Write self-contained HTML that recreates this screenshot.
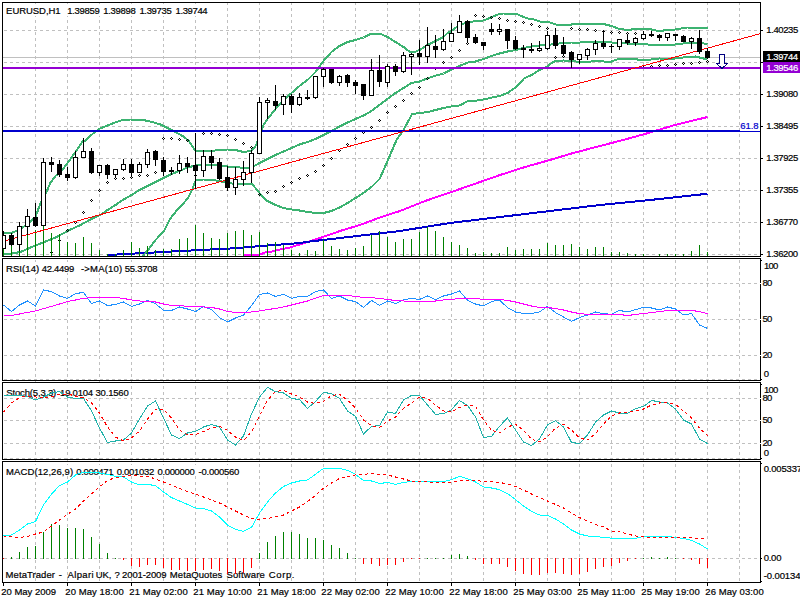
<!DOCTYPE html>
<html><head><meta charset="utf-8"><title>EURUSD,H1</title>
<style>
html,body{margin:0;padding:0;background:#fff;overflow:hidden}
svg{display:block}
text{font-family:"Liberation Sans",sans-serif;font-size:9.5px;white-space:pre;stroke-width:0.2px}
.tx{opacity:0.999}
</style></head><body>
<svg width="800" height="600" viewBox="0 0 800 600">
<rect width="800" height="600" fill="#fff"/>
<g shape-rendering="crispEdges">
<line x1="35.5" y1="3" x2="35.5" y2="256" stroke="#c0c0c0" stroke-dasharray="3 3" stroke-dashoffset="1"/>
<line x1="67.5" y1="3" x2="67.5" y2="256" stroke="#c0c0c0" stroke-dasharray="3 3" stroke-dashoffset="1"/>
<line x1="99.5" y1="3" x2="99.5" y2="256" stroke="#c0c0c0" stroke-dasharray="3 3" stroke-dashoffset="1"/>
<line x1="131.5" y1="3" x2="131.5" y2="256" stroke="#c0c0c0" stroke-dasharray="3 3" stroke-dashoffset="1"/>
<line x1="163.5" y1="3" x2="163.5" y2="256" stroke="#c0c0c0" stroke-dasharray="3 3" stroke-dashoffset="1"/>
<line x1="195.5" y1="3" x2="195.5" y2="256" stroke="#c0c0c0" stroke-dasharray="3 3" stroke-dashoffset="1"/>
<line x1="227.5" y1="3" x2="227.5" y2="256" stroke="#c0c0c0" stroke-dasharray="3 3" stroke-dashoffset="1"/>
<line x1="259.5" y1="3" x2="259.5" y2="256" stroke="#c0c0c0" stroke-dasharray="3 3" stroke-dashoffset="1"/>
<line x1="291.5" y1="3" x2="291.5" y2="256" stroke="#c0c0c0" stroke-dasharray="3 3" stroke-dashoffset="1"/>
<line x1="323.5" y1="3" x2="323.5" y2="256" stroke="#c0c0c0" stroke-dasharray="3 3" stroke-dashoffset="1"/>
<line x1="355.5" y1="3" x2="355.5" y2="256" stroke="#c0c0c0" stroke-dasharray="3 3" stroke-dashoffset="1"/>
<line x1="387.5" y1="3" x2="387.5" y2="256" stroke="#c0c0c0" stroke-dasharray="3 3" stroke-dashoffset="1"/>
<line x1="419.5" y1="3" x2="419.5" y2="256" stroke="#c0c0c0" stroke-dasharray="3 3" stroke-dashoffset="1"/>
<line x1="451.5" y1="3" x2="451.5" y2="256" stroke="#c0c0c0" stroke-dasharray="3 3" stroke-dashoffset="1"/>
<line x1="483.5" y1="3" x2="483.5" y2="256" stroke="#c0c0c0" stroke-dasharray="3 3" stroke-dashoffset="1"/>
<line x1="515.5" y1="3" x2="515.5" y2="256" stroke="#c0c0c0" stroke-dasharray="3 3" stroke-dashoffset="1"/>
<line x1="547.5" y1="3" x2="547.5" y2="256" stroke="#c0c0c0" stroke-dasharray="3 3" stroke-dashoffset="1"/>
<line x1="579.5" y1="3" x2="579.5" y2="256" stroke="#c0c0c0" stroke-dasharray="3 3" stroke-dashoffset="1"/>
<line x1="611.5" y1="3" x2="611.5" y2="256" stroke="#c0c0c0" stroke-dasharray="3 3" stroke-dashoffset="1"/>
<line x1="643.5" y1="3" x2="643.5" y2="256" stroke="#c0c0c0" stroke-dasharray="3 3" stroke-dashoffset="1"/>
<line x1="675.5" y1="3" x2="675.5" y2="256" stroke="#c0c0c0" stroke-dasharray="3 3" stroke-dashoffset="1"/>
<line x1="707.5" y1="3" x2="707.5" y2="256" stroke="#c0c0c0" stroke-dasharray="3 3" stroke-dashoffset="1"/>
<line x1="739.5" y1="3" x2="739.5" y2="256" stroke="#c0c0c0" stroke-dasharray="3 3" stroke-dashoffset="1"/>
<line x1="35.5" y1="259" x2="35.5" y2="380" stroke="#c0c0c0" stroke-dasharray="3 3" stroke-dashoffset="5"/>
<line x1="67.5" y1="259" x2="67.5" y2="380" stroke="#c0c0c0" stroke-dasharray="3 3" stroke-dashoffset="5"/>
<line x1="99.5" y1="259" x2="99.5" y2="380" stroke="#c0c0c0" stroke-dasharray="3 3" stroke-dashoffset="5"/>
<line x1="131.5" y1="259" x2="131.5" y2="380" stroke="#c0c0c0" stroke-dasharray="3 3" stroke-dashoffset="5"/>
<line x1="163.5" y1="259" x2="163.5" y2="380" stroke="#c0c0c0" stroke-dasharray="3 3" stroke-dashoffset="5"/>
<line x1="195.5" y1="259" x2="195.5" y2="380" stroke="#c0c0c0" stroke-dasharray="3 3" stroke-dashoffset="5"/>
<line x1="227.5" y1="259" x2="227.5" y2="380" stroke="#c0c0c0" stroke-dasharray="3 3" stroke-dashoffset="5"/>
<line x1="259.5" y1="259" x2="259.5" y2="380" stroke="#c0c0c0" stroke-dasharray="3 3" stroke-dashoffset="5"/>
<line x1="291.5" y1="259" x2="291.5" y2="380" stroke="#c0c0c0" stroke-dasharray="3 3" stroke-dashoffset="5"/>
<line x1="323.5" y1="259" x2="323.5" y2="380" stroke="#c0c0c0" stroke-dasharray="3 3" stroke-dashoffset="5"/>
<line x1="355.5" y1="259" x2="355.5" y2="380" stroke="#c0c0c0" stroke-dasharray="3 3" stroke-dashoffset="5"/>
<line x1="387.5" y1="259" x2="387.5" y2="380" stroke="#c0c0c0" stroke-dasharray="3 3" stroke-dashoffset="5"/>
<line x1="419.5" y1="259" x2="419.5" y2="380" stroke="#c0c0c0" stroke-dasharray="3 3" stroke-dashoffset="5"/>
<line x1="451.5" y1="259" x2="451.5" y2="380" stroke="#c0c0c0" stroke-dasharray="3 3" stroke-dashoffset="5"/>
<line x1="483.5" y1="259" x2="483.5" y2="380" stroke="#c0c0c0" stroke-dasharray="3 3" stroke-dashoffset="5"/>
<line x1="515.5" y1="259" x2="515.5" y2="380" stroke="#c0c0c0" stroke-dasharray="3 3" stroke-dashoffset="5"/>
<line x1="547.5" y1="259" x2="547.5" y2="380" stroke="#c0c0c0" stroke-dasharray="3 3" stroke-dashoffset="5"/>
<line x1="579.5" y1="259" x2="579.5" y2="380" stroke="#c0c0c0" stroke-dasharray="3 3" stroke-dashoffset="5"/>
<line x1="611.5" y1="259" x2="611.5" y2="380" stroke="#c0c0c0" stroke-dasharray="3 3" stroke-dashoffset="5"/>
<line x1="643.5" y1="259" x2="643.5" y2="380" stroke="#c0c0c0" stroke-dasharray="3 3" stroke-dashoffset="5"/>
<line x1="675.5" y1="259" x2="675.5" y2="380" stroke="#c0c0c0" stroke-dasharray="3 3" stroke-dashoffset="5"/>
<line x1="707.5" y1="259" x2="707.5" y2="380" stroke="#c0c0c0" stroke-dasharray="3 3" stroke-dashoffset="5"/>
<line x1="739.5" y1="259" x2="739.5" y2="380" stroke="#c0c0c0" stroke-dasharray="3 3" stroke-dashoffset="5"/>
<line x1="35.5" y1="383" x2="35.5" y2="459" stroke="#c0c0c0" stroke-dasharray="3 3" stroke-dashoffset="3"/>
<line x1="67.5" y1="383" x2="67.5" y2="459" stroke="#c0c0c0" stroke-dasharray="3 3" stroke-dashoffset="3"/>
<line x1="99.5" y1="383" x2="99.5" y2="459" stroke="#c0c0c0" stroke-dasharray="3 3" stroke-dashoffset="3"/>
<line x1="131.5" y1="383" x2="131.5" y2="459" stroke="#c0c0c0" stroke-dasharray="3 3" stroke-dashoffset="3"/>
<line x1="163.5" y1="383" x2="163.5" y2="459" stroke="#c0c0c0" stroke-dasharray="3 3" stroke-dashoffset="3"/>
<line x1="195.5" y1="383" x2="195.5" y2="459" stroke="#c0c0c0" stroke-dasharray="3 3" stroke-dashoffset="3"/>
<line x1="227.5" y1="383" x2="227.5" y2="459" stroke="#c0c0c0" stroke-dasharray="3 3" stroke-dashoffset="3"/>
<line x1="259.5" y1="383" x2="259.5" y2="459" stroke="#c0c0c0" stroke-dasharray="3 3" stroke-dashoffset="3"/>
<line x1="291.5" y1="383" x2="291.5" y2="459" stroke="#c0c0c0" stroke-dasharray="3 3" stroke-dashoffset="3"/>
<line x1="323.5" y1="383" x2="323.5" y2="459" stroke="#c0c0c0" stroke-dasharray="3 3" stroke-dashoffset="3"/>
<line x1="355.5" y1="383" x2="355.5" y2="459" stroke="#c0c0c0" stroke-dasharray="3 3" stroke-dashoffset="3"/>
<line x1="387.5" y1="383" x2="387.5" y2="459" stroke="#c0c0c0" stroke-dasharray="3 3" stroke-dashoffset="3"/>
<line x1="419.5" y1="383" x2="419.5" y2="459" stroke="#c0c0c0" stroke-dasharray="3 3" stroke-dashoffset="3"/>
<line x1="451.5" y1="383" x2="451.5" y2="459" stroke="#c0c0c0" stroke-dasharray="3 3" stroke-dashoffset="3"/>
<line x1="483.5" y1="383" x2="483.5" y2="459" stroke="#c0c0c0" stroke-dasharray="3 3" stroke-dashoffset="3"/>
<line x1="515.5" y1="383" x2="515.5" y2="459" stroke="#c0c0c0" stroke-dasharray="3 3" stroke-dashoffset="3"/>
<line x1="547.5" y1="383" x2="547.5" y2="459" stroke="#c0c0c0" stroke-dasharray="3 3" stroke-dashoffset="3"/>
<line x1="579.5" y1="383" x2="579.5" y2="459" stroke="#c0c0c0" stroke-dasharray="3 3" stroke-dashoffset="3"/>
<line x1="611.5" y1="383" x2="611.5" y2="459" stroke="#c0c0c0" stroke-dasharray="3 3" stroke-dashoffset="3"/>
<line x1="643.5" y1="383" x2="643.5" y2="459" stroke="#c0c0c0" stroke-dasharray="3 3" stroke-dashoffset="3"/>
<line x1="675.5" y1="383" x2="675.5" y2="459" stroke="#c0c0c0" stroke-dasharray="3 3" stroke-dashoffset="3"/>
<line x1="707.5" y1="383" x2="707.5" y2="459" stroke="#c0c0c0" stroke-dasharray="3 3" stroke-dashoffset="3"/>
<line x1="739.5" y1="383" x2="739.5" y2="459" stroke="#c0c0c0" stroke-dasharray="3 3" stroke-dashoffset="3"/>
<line x1="35.5" y1="462" x2="35.5" y2="582" stroke="#c0c0c0" stroke-dasharray="3 3" stroke-dashoffset="4"/>
<line x1="67.5" y1="462" x2="67.5" y2="582" stroke="#c0c0c0" stroke-dasharray="3 3" stroke-dashoffset="4"/>
<line x1="99.5" y1="462" x2="99.5" y2="582" stroke="#c0c0c0" stroke-dasharray="3 3" stroke-dashoffset="4"/>
<line x1="131.5" y1="462" x2="131.5" y2="582" stroke="#c0c0c0" stroke-dasharray="3 3" stroke-dashoffset="4"/>
<line x1="163.5" y1="462" x2="163.5" y2="582" stroke="#c0c0c0" stroke-dasharray="3 3" stroke-dashoffset="4"/>
<line x1="195.5" y1="462" x2="195.5" y2="582" stroke="#c0c0c0" stroke-dasharray="3 3" stroke-dashoffset="4"/>
<line x1="227.5" y1="462" x2="227.5" y2="582" stroke="#c0c0c0" stroke-dasharray="3 3" stroke-dashoffset="4"/>
<line x1="259.5" y1="462" x2="259.5" y2="582" stroke="#c0c0c0" stroke-dasharray="3 3" stroke-dashoffset="4"/>
<line x1="291.5" y1="462" x2="291.5" y2="582" stroke="#c0c0c0" stroke-dasharray="3 3" stroke-dashoffset="4"/>
<line x1="323.5" y1="462" x2="323.5" y2="582" stroke="#c0c0c0" stroke-dasharray="3 3" stroke-dashoffset="4"/>
<line x1="355.5" y1="462" x2="355.5" y2="582" stroke="#c0c0c0" stroke-dasharray="3 3" stroke-dashoffset="4"/>
<line x1="387.5" y1="462" x2="387.5" y2="582" stroke="#c0c0c0" stroke-dasharray="3 3" stroke-dashoffset="4"/>
<line x1="419.5" y1="462" x2="419.5" y2="582" stroke="#c0c0c0" stroke-dasharray="3 3" stroke-dashoffset="4"/>
<line x1="451.5" y1="462" x2="451.5" y2="582" stroke="#c0c0c0" stroke-dasharray="3 3" stroke-dashoffset="4"/>
<line x1="483.5" y1="462" x2="483.5" y2="582" stroke="#c0c0c0" stroke-dasharray="3 3" stroke-dashoffset="4"/>
<line x1="515.5" y1="462" x2="515.5" y2="582" stroke="#c0c0c0" stroke-dasharray="3 3" stroke-dashoffset="4"/>
<line x1="547.5" y1="462" x2="547.5" y2="582" stroke="#c0c0c0" stroke-dasharray="3 3" stroke-dashoffset="4"/>
<line x1="579.5" y1="462" x2="579.5" y2="582" stroke="#c0c0c0" stroke-dasharray="3 3" stroke-dashoffset="4"/>
<line x1="611.5" y1="462" x2="611.5" y2="582" stroke="#c0c0c0" stroke-dasharray="3 3" stroke-dashoffset="4"/>
<line x1="643.5" y1="462" x2="643.5" y2="582" stroke="#c0c0c0" stroke-dasharray="3 3" stroke-dashoffset="4"/>
<line x1="675.5" y1="462" x2="675.5" y2="582" stroke="#c0c0c0" stroke-dasharray="3 3" stroke-dashoffset="4"/>
<line x1="707.5" y1="462" x2="707.5" y2="582" stroke="#c0c0c0" stroke-dasharray="3 3" stroke-dashoffset="4"/>
<line x1="739.5" y1="462" x2="739.5" y2="582" stroke="#c0c0c0" stroke-dasharray="3 3" stroke-dashoffset="4"/>
<rect x="35" y="381" width="1" height="1" fill="#c0c0c0"/>
<rect x="35" y="460" width="1" height="1" fill="#c0c0c0"/>
<rect x="67" y="381" width="1" height="1" fill="#c0c0c0"/>
<rect x="67" y="460" width="1" height="1" fill="#c0c0c0"/>
<rect x="99" y="381" width="1" height="1" fill="#c0c0c0"/>
<rect x="99" y="460" width="1" height="1" fill="#c0c0c0"/>
<rect x="131" y="381" width="1" height="1" fill="#c0c0c0"/>
<rect x="131" y="460" width="1" height="1" fill="#c0c0c0"/>
<rect x="163" y="381" width="1" height="1" fill="#c0c0c0"/>
<rect x="163" y="460" width="1" height="1" fill="#c0c0c0"/>
<rect x="195" y="381" width="1" height="1" fill="#c0c0c0"/>
<rect x="195" y="460" width="1" height="1" fill="#c0c0c0"/>
<rect x="227" y="381" width="1" height="1" fill="#c0c0c0"/>
<rect x="227" y="460" width="1" height="1" fill="#c0c0c0"/>
<rect x="259" y="381" width="1" height="1" fill="#c0c0c0"/>
<rect x="259" y="460" width="1" height="1" fill="#c0c0c0"/>
<rect x="291" y="381" width="1" height="1" fill="#c0c0c0"/>
<rect x="291" y="460" width="1" height="1" fill="#c0c0c0"/>
<rect x="323" y="381" width="1" height="1" fill="#c0c0c0"/>
<rect x="323" y="460" width="1" height="1" fill="#c0c0c0"/>
<rect x="355" y="381" width="1" height="1" fill="#c0c0c0"/>
<rect x="355" y="460" width="1" height="1" fill="#c0c0c0"/>
<rect x="387" y="381" width="1" height="1" fill="#c0c0c0"/>
<rect x="387" y="460" width="1" height="1" fill="#c0c0c0"/>
<rect x="419" y="381" width="1" height="1" fill="#c0c0c0"/>
<rect x="419" y="460" width="1" height="1" fill="#c0c0c0"/>
<rect x="451" y="381" width="1" height="1" fill="#c0c0c0"/>
<rect x="451" y="460" width="1" height="1" fill="#c0c0c0"/>
<rect x="483" y="381" width="1" height="1" fill="#c0c0c0"/>
<rect x="483" y="460" width="1" height="1" fill="#c0c0c0"/>
<rect x="515" y="381" width="1" height="1" fill="#c0c0c0"/>
<rect x="515" y="460" width="1" height="1" fill="#c0c0c0"/>
<rect x="547" y="381" width="1" height="1" fill="#c0c0c0"/>
<rect x="547" y="460" width="1" height="1" fill="#c0c0c0"/>
<rect x="579" y="381" width="1" height="1" fill="#c0c0c0"/>
<rect x="579" y="460" width="1" height="1" fill="#c0c0c0"/>
<rect x="611" y="381" width="1" height="1" fill="#c0c0c0"/>
<rect x="611" y="460" width="1" height="1" fill="#c0c0c0"/>
<rect x="643" y="381" width="1" height="1" fill="#c0c0c0"/>
<rect x="643" y="460" width="1" height="1" fill="#c0c0c0"/>
<rect x="675" y="381" width="1" height="1" fill="#c0c0c0"/>
<rect x="675" y="460" width="1" height="1" fill="#c0c0c0"/>
<rect x="707" y="381" width="1" height="1" fill="#c0c0c0"/>
<rect x="707" y="460" width="1" height="1" fill="#c0c0c0"/>
<rect x="739" y="381" width="1" height="1" fill="#c0c0c0"/>
<rect x="739" y="460" width="1" height="1" fill="#c0c0c0"/>
<line x1="3" y1="30.5" x2="760" y2="30.5" stroke="#c0c0c0" stroke-dasharray="3 3" stroke-dashoffset="5"/>
<line x1="3" y1="62.5" x2="760" y2="62.5" stroke="#c0c0c0" stroke-dasharray="3 3" stroke-dashoffset="5"/>
<line x1="3" y1="94.5" x2="760" y2="94.5" stroke="#c0c0c0" stroke-dasharray="3 3" stroke-dashoffset="5"/>
<line x1="3" y1="126.5" x2="760" y2="126.5" stroke="#c0c0c0" stroke-dasharray="3 3" stroke-dashoffset="5"/>
<line x1="3" y1="158.5" x2="760" y2="158.5" stroke="#c0c0c0" stroke-dasharray="3 3" stroke-dashoffset="5"/>
<line x1="3" y1="190.5" x2="760" y2="190.5" stroke="#c0c0c0" stroke-dasharray="3 3" stroke-dashoffset="5"/>
<line x1="3" y1="222.5" x2="760" y2="222.5" stroke="#c0c0c0" stroke-dasharray="3 3" stroke-dashoffset="5"/>
<line x1="3" y1="254.5" x2="760" y2="254.5" stroke="#c0c0c0" stroke-dasharray="3 3" stroke-dashoffset="5"/>
<line x1="3" y1="283.5" x2="760" y2="283.5" stroke="#c0c0c0" stroke-dasharray="3 3" stroke-dashoffset="5"/>
<line x1="3" y1="319.5" x2="760" y2="319.5" stroke="#c0c0c0" stroke-dasharray="3 3" stroke-dashoffset="5"/>
<line x1="3" y1="355.5" x2="760" y2="355.5" stroke="#c0c0c0" stroke-dasharray="3 3" stroke-dashoffset="5"/>
<line x1="3" y1="379.5" x2="760" y2="379.5" stroke="#c0c0c0" stroke-dasharray="3 3" stroke-dashoffset="5"/>
<line x1="3" y1="398.5" x2="760" y2="398.5" stroke="#c0c0c0" stroke-dasharray="3 3" stroke-dashoffset="5"/>
<line x1="3" y1="420.5" x2="760" y2="420.5" stroke="#c0c0c0" stroke-dasharray="3 3" stroke-dashoffset="5"/>
<line x1="3" y1="443.5" x2="760" y2="443.5" stroke="#c0c0c0" stroke-dasharray="3 3" stroke-dashoffset="5"/>
<line x1="3" y1="458.5" x2="760" y2="458.5" stroke="#c0c0c0" stroke-dasharray="3 3" stroke-dashoffset="5"/>
<line x1="3" y1="558.5" x2="760" y2="558.5" stroke="#c0c0c0" stroke-dasharray="3 3" stroke-dashoffset="5"/>
</g>
<rect x="5" y="4" width="204" height="12" fill="#fff"/>
<rect x="5" y="262" width="154" height="11" fill="#fff"/>
<rect x="5" y="386" width="125" height="11" fill="#fff"/>
<rect x="5" y="465" width="236" height="11" fill="#fff"/>
<g class="tx">
<text x="6.12" y="14" fill="#000" stroke="#000" letter-spacing="-0.057">EURUSD,H1</text>
<text x="67.18" y="14" fill="#000" stroke="#000" letter-spacing="-0.294">1.39859</text>
<text x="103.28" y="14" fill="#000" stroke="#000" letter-spacing="-0.317">1.39898</text>
<text x="139.38" y="14" fill="#000" stroke="#000" letter-spacing="-0.336">1.39735</text>
<text x="175.48" y="14" fill="#000" stroke="#000" letter-spacing="-0.373">1.39744</text>
<text x="6.02" y="272" fill="#000" stroke="#000" letter-spacing="0.073">RSI(14)</text>
<text x="41.68" y="272" fill="#000" stroke="#000" letter-spacing="-0.295">42.4499</text>
<text x="80.98" y="272" fill="#000" stroke="#000" letter-spacing="0.194">-&gt;MA(10)</text>
<text x="124.72" y="272" fill="#000" stroke="#000" letter-spacing="-0.258">55.3708</text>
<text x="6.37" y="396" fill="#000" stroke="#000" letter-spacing="-0.166">Stoch(5,3,3)</text>
<text x="60.08" y="396" fill="#000" stroke="#000" letter-spacing="-0.223">19.0104</text>
<text x="95.54" y="396" fill="#000" stroke="#000" letter-spacing="-0.201">30.1560</text>
<text x="6.12" y="475" fill="#000" stroke="#000" letter-spacing="0.081">MACD(12,26,9)</text>
<text x="76.23" y="475" fill="#000" stroke="#000" letter-spacing="-0.327">0.000471</text>
<text x="116.83" y="475" fill="#000" stroke="#000" letter-spacing="-0.318">0.001032</text>
<text x="157.43" y="475" fill="#000" stroke="#000" letter-spacing="-0.326">0.000000</text>
<text x="198.58" y="475" fill="#000" stroke="#000" letter-spacing="-0.249">-0.000560</text>
<text x="5.62" y="578" fill="#000" stroke="#000" letter-spacing="0.060">MetaTrader</text>
<text x="58.83" y="578" fill="#000" stroke="#000">-</text>
<text x="67.48" y="578" fill="#000" stroke="#000" letter-spacing="0.374">Alpari</text>
<text x="95.67" y="578" fill="#000" stroke="#000" letter-spacing="-0.025">UK,</text>
<text x="114.61" y="578" fill="#000" stroke="#000">?</text>
<text x="122.12" y="578" fill="#000" stroke="#000" letter-spacing="-0.125">2001-2009</text>
<text x="169.82" y="578" fill="#000" stroke="#000" letter-spacing="0.086">MetaQuotes</text>
<text x="226.47" y="578" fill="#000" stroke="#000" letter-spacing="0.123">Software</text>
<text x="268.77" y="578" fill="#000" stroke="#000" letter-spacing="0.617">Corp.</text>
</g>
<clipPath id="cm"><rect x="3" y="3" width="757" height="253"/></clipPath>
<g clip-path="url(#cm)" shape-rendering="crispEdges">
<rect x="3" y="57" width="757" height="1" fill="#c0c0c0"/>
<polyline points="244.00,255.00 260.00,254.50 265.00,252.50 270.00,252.00 280.00,249.50 290.00,247.50 296.00,245.50 303.00,243.50 320.00,238.00 340.00,231.00 360.00,225.00 380.00,217.50 400.00,211.00 425.00,201.00 450.00,192.50 475.00,183.75 500.00,175.00 525.00,167.00 550.00,160.00 575.00,152.50 600.00,146.00 625.00,139.50 650.00,132.50 675.00,125.00 707.50,117.00" fill="none" stroke="#ff00ff" stroke-width="2" stroke-linejoin="round" stroke-linecap="butt"/>
<polyline points="107.50,255.00 200.00,250.00 230.00,248.50 300.00,243.00 310.00,241.50 400.00,231.00 450.00,223.00 500.00,217.00 550.00,211.00 600.00,205.00 650.00,200.00 707.50,193.75" fill="none" stroke="#0000cd" stroke-width="2" stroke-linejoin="round" stroke-linecap="butt"/>
<polyline points="3.50,233.00 11.50,233.00 19.50,229.50 27.50,224.00 35.50,217.00 40.50,203.00 46.50,192.00 50.50,182.50 55.50,176.00 60.50,172.50 68.00,162.50 75.50,152.00 83.00,141.00 85.50,140.70 93.00,133.50 100.50,128.25 108.00,125.25 115.50,122.25 123.00,120.00 130.50,119.50 138.00,120.00 145.50,120.50 153.00,122.25 160.50,124.50 168.00,128.25 175.50,132.00 183.00,136.20 189.00,141.00 192.75,147.00 195.75,151.50 203.50,151.00 211.50,151.00 219.50,150.00 227.50,149.50 235.50,150.00 243.50,152.00 251.50,151.00 255.50,146.00 259.50,137.00 263.50,125.00 267.50,119.00 275.50,109.00 283.50,100.00 291.50,93.00 299.50,86.00 307.50,80.00 315.50,72.00 323.50,61.00 331.50,52.00 339.50,46.00 347.50,42.00 355.50,40.00 363.50,37.50 371.50,33.50 379.50,33.50 387.50,37.00 395.50,42.00 403.50,47.00 409.50,51.50 413.50,52.50 419.50,50.00 427.50,45.00 435.50,41.00 443.50,37.00 447.50,33.00 451.50,31.00 459.50,25.00 467.50,22.50 475.50,21.00 483.50,20.50 487.50,19.00 491.50,17.00 499.50,14.00 503.50,13.50 515.50,13.50 523.50,17.00 527.50,18.50 531.50,18.50 535.50,20.00 539.50,21.50 547.50,21.50 551.50,23.00 555.50,24.50 571.50,24.50 573.50,24.00 603.50,24.00 607.50,25.00 611.50,26.00 615.50,27.50 619.50,29.00 623.50,29.50 631.50,29.50 635.50,29.00 647.50,29.00 651.50,29.50 655.50,30.50 663.50,30.50 667.50,30.00 675.50,29.50 683.50,28.00 687.50,27.50 707.50,27.50" fill="none" stroke="#3cb371" stroke-width="2" stroke-linejoin="round" stroke-linecap="butt"/>
<polyline points="3.50,254.50 13.00,253.25 20.50,252.00 31.75,247.00 44.25,242.00 56.75,237.00 68.00,230.75 80.50,225.00 90.50,219.50 100.50,214.75 107.50,210.00 115.50,205.00 123.50,199.50 131.50,195.00 139.50,190.00 147.50,186.00 155.50,182.00 163.50,178.00 171.50,174.00 179.50,171.00 187.50,167.50 195.50,165.50 203.50,165.00 211.50,165.00 219.50,165.50 227.50,166.50 235.50,167.00 243.50,168.00 251.50,167.50 259.50,163.00 267.50,159.00 275.50,155.00 283.50,151.50 291.50,148.00 299.50,144.50 307.50,142.00 315.50,139.00 323.50,135.00 331.50,131.00 339.50,126.50 347.50,122.50 355.50,119.00 363.50,115.50 371.50,111.00 379.50,105.00 387.50,99.00 395.50,93.00 403.50,88.00 411.50,83.00 419.50,81.50 427.50,78.40 435.50,75.75 443.50,73.50 451.50,69.50 459.50,66.00 467.50,62.60 475.50,61.50 483.50,59.00 491.50,56.00 499.50,53.50 507.50,51.50 515.50,50.00 523.50,48.00 531.50,46.50 539.50,45.50 547.50,45.00 555.50,44.00 563.50,43.00 571.50,42.50 579.50,42.50 603.50,42.00 611.50,42.50 619.50,43.00 627.50,43.50 635.50,44.00 643.50,44.00 651.50,45.00 659.50,45.00 667.50,45.00 675.50,44.50 683.50,43.50 691.50,43.00 699.50,43.00 707.50,44.00" fill="none" stroke="#3cb371" stroke-width="2" stroke-linejoin="round" stroke-linecap="butt"/>
<polyline points="139.50,261.00 143.60,255.10 148.00,250.10 155.50,240.10 164.25,230.75 168.00,223.25 170.50,218.25 175.50,212.00 181.75,205.10 188.00,198.25 191.75,190.75 195.00,182.00 196.00,180.00 203.50,179.50 211.50,180.00 219.50,181.00 227.50,183.00 235.50,184.00 243.50,183.50 251.50,183.50 255.50,188.00 259.50,193.00 263.50,198.00 267.50,201.00 275.50,205.00 283.50,208.00 291.50,209.50 299.50,210.50 307.50,212.00 315.50,213.00 323.50,213.00 331.50,211.00 339.50,207.50 347.50,203.00 355.50,198.00 363.50,193.00 371.50,187.00 379.50,179.00 384.50,168.00 390.50,154.00 396.50,140.00 403.50,130.00 412.10,114.00 420.00,113.00 427.90,112.00 435.50,110.00 443.50,108.00 451.50,106.40 459.50,105.50 468.10,101.00 476.00,100.60 483.90,99.40 491.50,97.60 499.50,96.00 507.50,93.00 516.25,87.00 524.10,78.40 531.50,75.00 539.50,70.00 547.50,66.50 551.50,63.00 555.50,61.00 563.50,60.50 571.50,61.00 579.50,62.00 587.50,62.00 595.50,61.00 603.50,61.50 611.50,61.50 615.50,60.00 619.50,58.50 631.50,58.50 635.50,59.00 639.50,60.00 647.50,60.00 651.50,59.50 659.50,58.50 667.50,59.00 675.50,58.50 683.50,57.50 691.50,57.00 695.50,56.50 699.50,57.50 703.50,58.50 707.50,59.50" fill="none" stroke="#3cb371" stroke-width="2" stroke-linejoin="round" stroke-linecap="butt"/>
<rect x="51" y="251" width="1" height="1" fill="#000"/>
<rect x="51" y="253" width="1" height="1" fill="#000"/>
<rect x="50" y="252" width="1" height="1" fill="#000"/>
<rect x="52" y="252" width="1" height="1" fill="#000"/>
<rect x="59" y="239" width="1" height="1" fill="#000"/>
<rect x="59" y="241" width="1" height="1" fill="#000"/>
<rect x="58" y="240" width="1" height="1" fill="#000"/>
<rect x="60" y="240" width="1" height="1" fill="#000"/>
<rect x="67" y="229" width="1" height="1" fill="#000"/>
<rect x="67" y="231" width="1" height="1" fill="#000"/>
<rect x="66" y="230" width="1" height="1" fill="#000"/>
<rect x="68" y="230" width="1" height="1" fill="#000"/>
<rect x="75" y="221" width="1" height="1" fill="#000"/>
<rect x="75" y="223" width="1" height="1" fill="#000"/>
<rect x="74" y="222" width="1" height="1" fill="#000"/>
<rect x="76" y="222" width="1" height="1" fill="#000"/>
<rect x="83" y="211" width="1" height="1" fill="#000"/>
<rect x="83" y="213" width="1" height="1" fill="#000"/>
<rect x="82" y="212" width="1" height="1" fill="#000"/>
<rect x="84" y="212" width="1" height="1" fill="#000"/>
<rect x="91" y="199" width="1" height="1" fill="#000"/>
<rect x="91" y="201" width="1" height="1" fill="#000"/>
<rect x="90" y="200" width="1" height="1" fill="#000"/>
<rect x="92" y="200" width="1" height="1" fill="#000"/>
<rect x="99" y="189" width="1" height="1" fill="#000"/>
<rect x="99" y="191" width="1" height="1" fill="#000"/>
<rect x="98" y="190" width="1" height="1" fill="#000"/>
<rect x="100" y="190" width="1" height="1" fill="#000"/>
<rect x="107" y="181" width="1" height="1" fill="#000"/>
<rect x="107" y="183" width="1" height="1" fill="#000"/>
<rect x="106" y="182" width="1" height="1" fill="#000"/>
<rect x="108" y="182" width="1" height="1" fill="#000"/>
<rect x="115" y="177" width="1" height="1" fill="#000"/>
<rect x="115" y="179" width="1" height="1" fill="#000"/>
<rect x="114" y="178" width="1" height="1" fill="#000"/>
<rect x="116" y="178" width="1" height="1" fill="#000"/>
<rect x="123" y="177" width="1" height="1" fill="#000"/>
<rect x="123" y="179" width="1" height="1" fill="#000"/>
<rect x="122" y="178" width="1" height="1" fill="#000"/>
<rect x="124" y="178" width="1" height="1" fill="#000"/>
<rect x="131" y="176" width="1" height="1" fill="#000"/>
<rect x="131" y="178" width="1" height="1" fill="#000"/>
<rect x="130" y="177" width="1" height="1" fill="#000"/>
<rect x="132" y="177" width="1" height="1" fill="#000"/>
<rect x="139" y="174" width="1" height="1" fill="#000"/>
<rect x="139" y="176" width="1" height="1" fill="#000"/>
<rect x="138" y="175" width="1" height="1" fill="#000"/>
<rect x="140" y="175" width="1" height="1" fill="#000"/>
<rect x="147" y="174" width="1" height="1" fill="#000"/>
<rect x="147" y="176" width="1" height="1" fill="#000"/>
<rect x="146" y="175" width="1" height="1" fill="#000"/>
<rect x="148" y="175" width="1" height="1" fill="#000"/>
<rect x="155" y="171" width="1" height="1" fill="#000"/>
<rect x="155" y="173" width="1" height="1" fill="#000"/>
<rect x="154" y="172" width="1" height="1" fill="#000"/>
<rect x="156" y="172" width="1" height="1" fill="#000"/>
<rect x="163" y="137" width="1" height="1" fill="#000"/>
<rect x="163" y="139" width="1" height="1" fill="#000"/>
<rect x="162" y="138" width="1" height="1" fill="#000"/>
<rect x="164" y="138" width="1" height="1" fill="#000"/>
<rect x="171" y="137" width="1" height="1" fill="#000"/>
<rect x="171" y="139" width="1" height="1" fill="#000"/>
<rect x="170" y="138" width="1" height="1" fill="#000"/>
<rect x="172" y="138" width="1" height="1" fill="#000"/>
<rect x="179" y="138" width="1" height="1" fill="#000"/>
<rect x="179" y="140" width="1" height="1" fill="#000"/>
<rect x="178" y="139" width="1" height="1" fill="#000"/>
<rect x="180" y="139" width="1" height="1" fill="#000"/>
<rect x="187" y="139" width="1" height="1" fill="#000"/>
<rect x="187" y="141" width="1" height="1" fill="#000"/>
<rect x="186" y="140" width="1" height="1" fill="#000"/>
<rect x="188" y="140" width="1" height="1" fill="#000"/>
<rect x="203" y="132" width="1" height="1" fill="#000"/>
<rect x="203" y="134" width="1" height="1" fill="#000"/>
<rect x="202" y="133" width="1" height="1" fill="#000"/>
<rect x="204" y="133" width="1" height="1" fill="#000"/>
<rect x="211" y="132" width="1" height="1" fill="#000"/>
<rect x="211" y="134" width="1" height="1" fill="#000"/>
<rect x="210" y="133" width="1" height="1" fill="#000"/>
<rect x="212" y="133" width="1" height="1" fill="#000"/>
<rect x="219" y="133" width="1" height="1" fill="#000"/>
<rect x="219" y="135" width="1" height="1" fill="#000"/>
<rect x="218" y="134" width="1" height="1" fill="#000"/>
<rect x="220" y="134" width="1" height="1" fill="#000"/>
<rect x="227" y="134" width="1" height="1" fill="#000"/>
<rect x="227" y="136" width="1" height="1" fill="#000"/>
<rect x="226" y="135" width="1" height="1" fill="#000"/>
<rect x="228" y="135" width="1" height="1" fill="#000"/>
<rect x="235" y="138" width="1" height="1" fill="#000"/>
<rect x="235" y="140" width="1" height="1" fill="#000"/>
<rect x="234" y="139" width="1" height="1" fill="#000"/>
<rect x="236" y="139" width="1" height="1" fill="#000"/>
<rect x="243" y="142" width="1" height="1" fill="#000"/>
<rect x="243" y="144" width="1" height="1" fill="#000"/>
<rect x="242" y="143" width="1" height="1" fill="#000"/>
<rect x="244" y="143" width="1" height="1" fill="#000"/>
<rect x="251" y="146" width="1" height="1" fill="#000"/>
<rect x="251" y="148" width="1" height="1" fill="#000"/>
<rect x="250" y="147" width="1" height="1" fill="#000"/>
<rect x="252" y="147" width="1" height="1" fill="#000"/>
<rect x="259" y="193" width="1" height="1" fill="#000"/>
<rect x="259" y="195" width="1" height="1" fill="#000"/>
<rect x="258" y="194" width="1" height="1" fill="#000"/>
<rect x="260" y="194" width="1" height="1" fill="#000"/>
<rect x="267" y="191" width="1" height="1" fill="#000"/>
<rect x="267" y="193" width="1" height="1" fill="#000"/>
<rect x="266" y="192" width="1" height="1" fill="#000"/>
<rect x="268" y="192" width="1" height="1" fill="#000"/>
<rect x="275" y="190" width="1" height="1" fill="#000"/>
<rect x="275" y="192" width="1" height="1" fill="#000"/>
<rect x="274" y="191" width="1" height="1" fill="#000"/>
<rect x="276" y="191" width="1" height="1" fill="#000"/>
<rect x="283" y="185" width="1" height="1" fill="#000"/>
<rect x="283" y="187" width="1" height="1" fill="#000"/>
<rect x="282" y="186" width="1" height="1" fill="#000"/>
<rect x="284" y="186" width="1" height="1" fill="#000"/>
<rect x="291" y="181" width="1" height="1" fill="#000"/>
<rect x="291" y="183" width="1" height="1" fill="#000"/>
<rect x="290" y="182" width="1" height="1" fill="#000"/>
<rect x="292" y="182" width="1" height="1" fill="#000"/>
<rect x="299" y="177" width="1" height="1" fill="#000"/>
<rect x="299" y="179" width="1" height="1" fill="#000"/>
<rect x="298" y="178" width="1" height="1" fill="#000"/>
<rect x="300" y="178" width="1" height="1" fill="#000"/>
<rect x="307" y="174" width="1" height="1" fill="#000"/>
<rect x="307" y="176" width="1" height="1" fill="#000"/>
<rect x="306" y="175" width="1" height="1" fill="#000"/>
<rect x="308" y="175" width="1" height="1" fill="#000"/>
<rect x="315" y="170" width="1" height="1" fill="#000"/>
<rect x="315" y="172" width="1" height="1" fill="#000"/>
<rect x="314" y="171" width="1" height="1" fill="#000"/>
<rect x="316" y="171" width="1" height="1" fill="#000"/>
<rect x="323" y="164" width="1" height="1" fill="#000"/>
<rect x="323" y="166" width="1" height="1" fill="#000"/>
<rect x="322" y="165" width="1" height="1" fill="#000"/>
<rect x="324" y="165" width="1" height="1" fill="#000"/>
<rect x="331" y="157" width="1" height="1" fill="#000"/>
<rect x="331" y="159" width="1" height="1" fill="#000"/>
<rect x="330" y="158" width="1" height="1" fill="#000"/>
<rect x="332" y="158" width="1" height="1" fill="#000"/>
<rect x="339" y="149" width="1" height="1" fill="#000"/>
<rect x="339" y="151" width="1" height="1" fill="#000"/>
<rect x="338" y="150" width="1" height="1" fill="#000"/>
<rect x="340" y="150" width="1" height="1" fill="#000"/>
<rect x="347" y="143" width="1" height="1" fill="#000"/>
<rect x="347" y="145" width="1" height="1" fill="#000"/>
<rect x="346" y="144" width="1" height="1" fill="#000"/>
<rect x="348" y="144" width="1" height="1" fill="#000"/>
<rect x="355" y="137" width="1" height="1" fill="#000"/>
<rect x="355" y="139" width="1" height="1" fill="#000"/>
<rect x="354" y="138" width="1" height="1" fill="#000"/>
<rect x="356" y="138" width="1" height="1" fill="#000"/>
<rect x="363" y="131" width="1" height="1" fill="#000"/>
<rect x="363" y="133" width="1" height="1" fill="#000"/>
<rect x="362" y="132" width="1" height="1" fill="#000"/>
<rect x="364" y="132" width="1" height="1" fill="#000"/>
<rect x="371" y="126" width="1" height="1" fill="#000"/>
<rect x="371" y="128" width="1" height="1" fill="#000"/>
<rect x="370" y="127" width="1" height="1" fill="#000"/>
<rect x="372" y="127" width="1" height="1" fill="#000"/>
<rect x="379" y="119" width="1" height="1" fill="#000"/>
<rect x="379" y="121" width="1" height="1" fill="#000"/>
<rect x="378" y="120" width="1" height="1" fill="#000"/>
<rect x="380" y="120" width="1" height="1" fill="#000"/>
<rect x="387" y="111" width="1" height="1" fill="#000"/>
<rect x="387" y="113" width="1" height="1" fill="#000"/>
<rect x="386" y="112" width="1" height="1" fill="#000"/>
<rect x="388" y="112" width="1" height="1" fill="#000"/>
<rect x="395" y="105" width="1" height="1" fill="#000"/>
<rect x="395" y="107" width="1" height="1" fill="#000"/>
<rect x="394" y="106" width="1" height="1" fill="#000"/>
<rect x="396" y="106" width="1" height="1" fill="#000"/>
<rect x="403" y="99" width="1" height="1" fill="#000"/>
<rect x="403" y="101" width="1" height="1" fill="#000"/>
<rect x="402" y="100" width="1" height="1" fill="#000"/>
<rect x="404" y="100" width="1" height="1" fill="#000"/>
<rect x="411" y="92" width="1" height="1" fill="#000"/>
<rect x="411" y="94" width="1" height="1" fill="#000"/>
<rect x="410" y="93" width="1" height="1" fill="#000"/>
<rect x="412" y="93" width="1" height="1" fill="#000"/>
<rect x="419" y="86" width="1" height="1" fill="#000"/>
<rect x="419" y="88" width="1" height="1" fill="#000"/>
<rect x="418" y="87" width="1" height="1" fill="#000"/>
<rect x="420" y="87" width="1" height="1" fill="#000"/>
<rect x="427" y="77" width="1" height="1" fill="#000"/>
<rect x="427" y="79" width="1" height="1" fill="#000"/>
<rect x="426" y="78" width="1" height="1" fill="#000"/>
<rect x="428" y="78" width="1" height="1" fill="#000"/>
<rect x="435" y="67" width="1" height="1" fill="#000"/>
<rect x="435" y="69" width="1" height="1" fill="#000"/>
<rect x="434" y="68" width="1" height="1" fill="#000"/>
<rect x="436" y="68" width="1" height="1" fill="#000"/>
<rect x="443" y="61" width="1" height="1" fill="#000"/>
<rect x="443" y="63" width="1" height="1" fill="#000"/>
<rect x="442" y="62" width="1" height="1" fill="#000"/>
<rect x="444" y="62" width="1" height="1" fill="#000"/>
<rect x="451" y="56" width="1" height="1" fill="#000"/>
<rect x="451" y="58" width="1" height="1" fill="#000"/>
<rect x="450" y="57" width="1" height="1" fill="#000"/>
<rect x="452" y="57" width="1" height="1" fill="#000"/>
<rect x="459" y="49" width="1" height="1" fill="#000"/>
<rect x="459" y="51" width="1" height="1" fill="#000"/>
<rect x="458" y="50" width="1" height="1" fill="#000"/>
<rect x="460" y="50" width="1" height="1" fill="#000"/>
<rect x="467" y="42" width="1" height="1" fill="#000"/>
<rect x="467" y="44" width="1" height="1" fill="#000"/>
<rect x="466" y="43" width="1" height="1" fill="#000"/>
<rect x="468" y="43" width="1" height="1" fill="#000"/>
<rect x="475" y="14" width="1" height="1" fill="#000"/>
<rect x="475" y="16" width="1" height="1" fill="#000"/>
<rect x="474" y="15" width="1" height="1" fill="#000"/>
<rect x="476" y="15" width="1" height="1" fill="#000"/>
<rect x="483" y="15" width="1" height="1" fill="#000"/>
<rect x="483" y="17" width="1" height="1" fill="#000"/>
<rect x="482" y="16" width="1" height="1" fill="#000"/>
<rect x="484" y="16" width="1" height="1" fill="#000"/>
<rect x="491" y="16" width="1" height="1" fill="#000"/>
<rect x="491" y="18" width="1" height="1" fill="#000"/>
<rect x="490" y="17" width="1" height="1" fill="#000"/>
<rect x="492" y="17" width="1" height="1" fill="#000"/>
<rect x="499" y="17" width="1" height="1" fill="#000"/>
<rect x="499" y="19" width="1" height="1" fill="#000"/>
<rect x="498" y="18" width="1" height="1" fill="#000"/>
<rect x="500" y="18" width="1" height="1" fill="#000"/>
<rect x="507" y="19" width="1" height="1" fill="#000"/>
<rect x="507" y="21" width="1" height="1" fill="#000"/>
<rect x="506" y="20" width="1" height="1" fill="#000"/>
<rect x="508" y="20" width="1" height="1" fill="#000"/>
<rect x="515" y="20" width="1" height="1" fill="#000"/>
<rect x="515" y="22" width="1" height="1" fill="#000"/>
<rect x="514" y="21" width="1" height="1" fill="#000"/>
<rect x="516" y="21" width="1" height="1" fill="#000"/>
<rect x="523" y="21" width="1" height="1" fill="#000"/>
<rect x="523" y="23" width="1" height="1" fill="#000"/>
<rect x="522" y="22" width="1" height="1" fill="#000"/>
<rect x="524" y="22" width="1" height="1" fill="#000"/>
<rect x="531" y="23" width="1" height="1" fill="#000"/>
<rect x="531" y="25" width="1" height="1" fill="#000"/>
<rect x="530" y="24" width="1" height="1" fill="#000"/>
<rect x="532" y="24" width="1" height="1" fill="#000"/>
<rect x="539" y="25" width="1" height="1" fill="#000"/>
<rect x="539" y="27" width="1" height="1" fill="#000"/>
<rect x="538" y="26" width="1" height="1" fill="#000"/>
<rect x="540" y="26" width="1" height="1" fill="#000"/>
<rect x="547" y="27" width="1" height="1" fill="#000"/>
<rect x="547" y="29" width="1" height="1" fill="#000"/>
<rect x="546" y="28" width="1" height="1" fill="#000"/>
<rect x="548" y="28" width="1" height="1" fill="#000"/>
<rect x="555" y="56" width="1" height="1" fill="#000"/>
<rect x="555" y="58" width="1" height="1" fill="#000"/>
<rect x="554" y="57" width="1" height="1" fill="#000"/>
<rect x="556" y="57" width="1" height="1" fill="#000"/>
<rect x="563" y="55" width="1" height="1" fill="#000"/>
<rect x="563" y="57" width="1" height="1" fill="#000"/>
<rect x="562" y="56" width="1" height="1" fill="#000"/>
<rect x="564" y="56" width="1" height="1" fill="#000"/>
<rect x="571" y="27" width="1" height="1" fill="#000"/>
<rect x="571" y="29" width="1" height="1" fill="#000"/>
<rect x="570" y="28" width="1" height="1" fill="#000"/>
<rect x="572" y="28" width="1" height="1" fill="#000"/>
<rect x="579" y="28" width="1" height="1" fill="#000"/>
<rect x="579" y="30" width="1" height="1" fill="#000"/>
<rect x="578" y="29" width="1" height="1" fill="#000"/>
<rect x="580" y="29" width="1" height="1" fill="#000"/>
<rect x="587" y="28" width="1" height="1" fill="#000"/>
<rect x="587" y="30" width="1" height="1" fill="#000"/>
<rect x="586" y="29" width="1" height="1" fill="#000"/>
<rect x="588" y="29" width="1" height="1" fill="#000"/>
<rect x="595" y="29" width="1" height="1" fill="#000"/>
<rect x="595" y="31" width="1" height="1" fill="#000"/>
<rect x="594" y="30" width="1" height="1" fill="#000"/>
<rect x="596" y="30" width="1" height="1" fill="#000"/>
<rect x="603" y="30" width="1" height="1" fill="#000"/>
<rect x="603" y="32" width="1" height="1" fill="#000"/>
<rect x="602" y="31" width="1" height="1" fill="#000"/>
<rect x="604" y="31" width="1" height="1" fill="#000"/>
<rect x="611" y="31" width="1" height="1" fill="#000"/>
<rect x="611" y="33" width="1" height="1" fill="#000"/>
<rect x="610" y="32" width="1" height="1" fill="#000"/>
<rect x="612" y="32" width="1" height="1" fill="#000"/>
<rect x="619" y="31" width="1" height="1" fill="#000"/>
<rect x="619" y="33" width="1" height="1" fill="#000"/>
<rect x="618" y="32" width="1" height="1" fill="#000"/>
<rect x="620" y="32" width="1" height="1" fill="#000"/>
<rect x="627" y="32" width="1" height="1" fill="#000"/>
<rect x="627" y="34" width="1" height="1" fill="#000"/>
<rect x="626" y="33" width="1" height="1" fill="#000"/>
<rect x="628" y="33" width="1" height="1" fill="#000"/>
<rect x="635" y="32" width="1" height="1" fill="#000"/>
<rect x="635" y="34" width="1" height="1" fill="#000"/>
<rect x="634" y="33" width="1" height="1" fill="#000"/>
<rect x="636" y="33" width="1" height="1" fill="#000"/>
<rect x="643" y="66" width="1" height="1" fill="#000"/>
<rect x="643" y="68" width="1" height="1" fill="#000"/>
<rect x="642" y="67" width="1" height="1" fill="#000"/>
<rect x="644" y="67" width="1" height="1" fill="#000"/>
<rect x="651" y="65" width="1" height="1" fill="#000"/>
<rect x="651" y="67" width="1" height="1" fill="#000"/>
<rect x="650" y="66" width="1" height="1" fill="#000"/>
<rect x="652" y="66" width="1" height="1" fill="#000"/>
<rect x="659" y="64" width="1" height="1" fill="#000"/>
<rect x="659" y="66" width="1" height="1" fill="#000"/>
<rect x="658" y="65" width="1" height="1" fill="#000"/>
<rect x="660" y="65" width="1" height="1" fill="#000"/>
<rect x="667" y="64" width="1" height="1" fill="#000"/>
<rect x="667" y="66" width="1" height="1" fill="#000"/>
<rect x="666" y="65" width="1" height="1" fill="#000"/>
<rect x="668" y="65" width="1" height="1" fill="#000"/>
<rect x="675" y="63" width="1" height="1" fill="#000"/>
<rect x="675" y="65" width="1" height="1" fill="#000"/>
<rect x="674" y="64" width="1" height="1" fill="#000"/>
<rect x="676" y="64" width="1" height="1" fill="#000"/>
<rect x="683" y="62" width="1" height="1" fill="#000"/>
<rect x="683" y="64" width="1" height="1" fill="#000"/>
<rect x="682" y="63" width="1" height="1" fill="#000"/>
<rect x="684" y="63" width="1" height="1" fill="#000"/>
<rect x="691" y="62" width="1" height="1" fill="#000"/>
<rect x="691" y="64" width="1" height="1" fill="#000"/>
<rect x="690" y="63" width="1" height="1" fill="#000"/>
<rect x="692" y="63" width="1" height="1" fill="#000"/>
<rect x="699" y="61" width="1" height="1" fill="#000"/>
<rect x="699" y="63" width="1" height="1" fill="#000"/>
<rect x="698" y="62" width="1" height="1" fill="#000"/>
<rect x="700" y="62" width="1" height="1" fill="#000"/>
<rect x="707" y="60" width="1" height="1" fill="#000"/>
<rect x="707" y="62" width="1" height="1" fill="#000"/>
<rect x="706" y="61" width="1" height="1" fill="#000"/>
<rect x="708" y="61" width="1" height="1" fill="#000"/>
<rect x="3" y="249" width="1" height="7" fill="#008000"/>
<rect x="11" y="238" width="1" height="18" fill="#008000"/>
<rect x="19" y="236" width="1" height="20" fill="#008000"/>
<rect x="27" y="234" width="1" height="22" fill="#008000"/>
<rect x="35" y="230" width="1" height="26" fill="#008000"/>
<rect x="43" y="226" width="1" height="30" fill="#008000"/>
<rect x="51" y="233" width="1" height="23" fill="#008000"/>
<rect x="59" y="234" width="1" height="22" fill="#008000"/>
<rect x="67" y="242" width="1" height="14" fill="#008000"/>
<rect x="75" y="243" width="1" height="13" fill="#008000"/>
<rect x="83" y="237" width="1" height="19" fill="#008000"/>
<rect x="91" y="243" width="1" height="13" fill="#008000"/>
<rect x="99" y="250" width="1" height="6" fill="#008000"/>
<rect x="107" y="254" width="1" height="2" fill="#008000"/>
<rect x="115" y="254" width="1" height="2" fill="#008000"/>
<rect x="123" y="250" width="1" height="6" fill="#008000"/>
<rect x="131" y="242" width="1" height="14" fill="#008000"/>
<rect x="139" y="248" width="1" height="8" fill="#008000"/>
<rect x="147" y="246" width="1" height="10" fill="#008000"/>
<rect x="155" y="250" width="1" height="6" fill="#008000"/>
<rect x="163" y="249" width="1" height="7" fill="#008000"/>
<rect x="171" y="249" width="1" height="7" fill="#008000"/>
<rect x="179" y="239" width="1" height="17" fill="#008000"/>
<rect x="187" y="238" width="1" height="18" fill="#008000"/>
<rect x="195" y="225" width="1" height="31" fill="#008000"/>
<rect x="203" y="233" width="1" height="23" fill="#008000"/>
<rect x="211" y="238" width="1" height="18" fill="#008000"/>
<rect x="219" y="239" width="1" height="17" fill="#008000"/>
<rect x="227" y="233" width="1" height="23" fill="#008000"/>
<rect x="235" y="231" width="1" height="25" fill="#008000"/>
<rect x="243" y="230" width="1" height="26" fill="#008000"/>
<rect x="251" y="235" width="1" height="21" fill="#008000"/>
<rect x="259" y="232" width="1" height="24" fill="#008000"/>
<rect x="267" y="243" width="1" height="13" fill="#008000"/>
<rect x="275" y="242" width="1" height="14" fill="#008000"/>
<rect x="283" y="245" width="1" height="11" fill="#008000"/>
<rect x="291" y="250" width="1" height="6" fill="#008000"/>
<rect x="299" y="253" width="1" height="3" fill="#008000"/>
<rect x="307" y="250" width="1" height="6" fill="#008000"/>
<rect x="315" y="251" width="1" height="5" fill="#008000"/>
<rect x="323" y="240" width="1" height="16" fill="#008000"/>
<rect x="331" y="246" width="1" height="10" fill="#008000"/>
<rect x="339" y="249" width="1" height="7" fill="#008000"/>
<rect x="347" y="250" width="1" height="6" fill="#008000"/>
<rect x="355" y="248" width="1" height="8" fill="#008000"/>
<rect x="363" y="246" width="1" height="10" fill="#008000"/>
<rect x="371" y="235" width="1" height="21" fill="#008000"/>
<rect x="379" y="231" width="1" height="25" fill="#008000"/>
<rect x="387" y="237" width="1" height="19" fill="#008000"/>
<rect x="395" y="242" width="1" height="14" fill="#008000"/>
<rect x="403" y="239" width="1" height="17" fill="#008000"/>
<rect x="411" y="239" width="1" height="17" fill="#008000"/>
<rect x="419" y="232" width="1" height="24" fill="#008000"/>
<rect x="427" y="227" width="1" height="29" fill="#008000"/>
<rect x="435" y="231" width="1" height="25" fill="#008000"/>
<rect x="443" y="237" width="1" height="19" fill="#008000"/>
<rect x="451" y="242" width="1" height="14" fill="#008000"/>
<rect x="459" y="245" width="1" height="11" fill="#008000"/>
<rect x="467" y="248" width="1" height="8" fill="#008000"/>
<rect x="475" y="253" width="1" height="3" fill="#008000"/>
<rect x="483" y="252" width="1" height="4" fill="#008000"/>
<rect x="491" y="253" width="1" height="3" fill="#008000"/>
<rect x="499" y="253" width="1" height="3" fill="#008000"/>
<rect x="507" y="247" width="1" height="9" fill="#008000"/>
<rect x="515" y="250" width="1" height="6" fill="#008000"/>
<rect x="523" y="249" width="1" height="7" fill="#008000"/>
<rect x="531" y="249" width="1" height="7" fill="#008000"/>
<rect x="539" y="249" width="1" height="7" fill="#008000"/>
<rect x="547" y="243" width="1" height="13" fill="#008000"/>
<rect x="555" y="245" width="1" height="11" fill="#008000"/>
<rect x="563" y="245" width="1" height="11" fill="#008000"/>
<rect x="571" y="244" width="1" height="12" fill="#008000"/>
<rect x="579" y="247" width="1" height="9" fill="#008000"/>
<rect x="587" y="249" width="1" height="7" fill="#008000"/>
<rect x="595" y="247" width="1" height="9" fill="#008000"/>
<rect x="603" y="247" width="1" height="9" fill="#008000"/>
<rect x="611" y="252" width="1" height="4" fill="#008000"/>
<rect x="619" y="252" width="1" height="4" fill="#008000"/>
<rect x="627" y="253" width="1" height="3" fill="#008000"/>
<rect x="635" y="254" width="1" height="2" fill="#008000"/>
<rect x="643" y="254" width="1" height="2" fill="#008000"/>
<rect x="659" y="254" width="1" height="2" fill="#008000"/>
<rect x="667" y="254" width="1" height="2" fill="#008000"/>
<rect x="675" y="254" width="1" height="2" fill="#008000"/>
<rect x="683" y="254" width="1" height="2" fill="#008000"/>
<rect x="691" y="251" width="1" height="5" fill="#008000"/>
<rect x="699" y="245" width="1" height="11" fill="#008000"/>
<rect x="707" y="252" width="1" height="4" fill="#008000"/>
<rect x="3" y="67" width="757" height="2" fill="#9400d3"/>
<rect x="3" y="130" width="757" height="2" fill="#0000cd"/>
<polyline points="3.00,241.30 760.50,33.60" fill="none" stroke="#ff0000" stroke-width="1" stroke-linejoin="round" stroke-linecap="butt"/>
<rect x="3" y="231" width="1" height="18" fill="#000"/>
<rect x="1" y="235" width="5" height="14" fill="#000"/>
<rect x="2" y="236" width="3" height="12" fill="#fff"/>
<rect x="11" y="233" width="1" height="13" fill="#000"/>
<rect x="9" y="235" width="5" height="10" fill="#000"/>
<rect x="19" y="222" width="1" height="29" fill="#000"/>
<rect x="17" y="226" width="5" height="19" fill="#000"/>
<rect x="18" y="227" width="3" height="17" fill="#fff"/>
<rect x="27" y="209" width="1" height="26" fill="#000"/>
<rect x="25" y="216" width="5" height="11" fill="#000"/>
<rect x="26" y="217" width="3" height="9" fill="#fff"/>
<rect x="35" y="203" width="1" height="24" fill="#000"/>
<rect x="33" y="217" width="5" height="9" fill="#000"/>
<rect x="43" y="158" width="1" height="68" fill="#000"/>
<rect x="41" y="162" width="5" height="64" fill="#000"/>
<rect x="42" y="163" width="3" height="62" fill="#fff"/>
<rect x="51" y="157" width="1" height="15" fill="#000"/>
<rect x="49" y="162" width="5" height="3" fill="#000"/>
<rect x="59" y="160" width="1" height="17" fill="#000"/>
<rect x="57" y="164" width="5" height="11" fill="#000"/>
<rect x="67" y="167" width="1" height="14" fill="#000"/>
<rect x="65" y="174" width="5" height="4" fill="#000"/>
<rect x="75" y="151" width="1" height="28" fill="#000"/>
<rect x="73" y="157" width="5" height="21" fill="#000"/>
<rect x="74" y="158" width="3" height="19" fill="#fff"/>
<rect x="83" y="138" width="1" height="20" fill="#000"/>
<rect x="81" y="151" width="5" height="7" fill="#000"/>
<rect x="82" y="152" width="3" height="5" fill="#fff"/>
<rect x="91" y="148" width="1" height="26" fill="#000"/>
<rect x="89" y="151" width="5" height="22" fill="#000"/>
<rect x="99" y="165" width="1" height="11" fill="#000"/>
<rect x="97" y="165" width="5" height="8" fill="#000"/>
<rect x="98" y="166" width="3" height="6" fill="#fff"/>
<rect x="107" y="164" width="1" height="15" fill="#000"/>
<rect x="105" y="165" width="5" height="10" fill="#000"/>
<rect x="115" y="169" width="1" height="9" fill="#000"/>
<rect x="113" y="169" width="5" height="6" fill="#000"/>
<rect x="114" y="170" width="3" height="4" fill="#fff"/>
<rect x="123" y="159" width="1" height="12" fill="#000"/>
<rect x="121" y="164" width="5" height="6" fill="#000"/>
<rect x="122" y="165" width="3" height="4" fill="#fff"/>
<rect x="131" y="159" width="1" height="18" fill="#000"/>
<rect x="129" y="164" width="5" height="9" fill="#000"/>
<rect x="139" y="162" width="1" height="11" fill="#000"/>
<rect x="137" y="164" width="5" height="9" fill="#000"/>
<rect x="138" y="165" width="3" height="7" fill="#fff"/>
<rect x="147" y="149" width="1" height="19" fill="#000"/>
<rect x="145" y="152" width="5" height="13" fill="#000"/>
<rect x="146" y="153" width="3" height="11" fill="#fff"/>
<rect x="155" y="150" width="1" height="16" fill="#000"/>
<rect x="153" y="151" width="5" height="9" fill="#000"/>
<rect x="163" y="157" width="1" height="19" fill="#000"/>
<rect x="161" y="160" width="5" height="12" fill="#000"/>
<rect x="171" y="167" width="1" height="8" fill="#000"/>
<rect x="169" y="170" width="5" height="2" fill="#000"/>
<rect x="179" y="155" width="1" height="19" fill="#000"/>
<rect x="177" y="163" width="5" height="8" fill="#000"/>
<rect x="178" y="164" width="3" height="6" fill="#fff"/>
<rect x="187" y="157" width="1" height="16" fill="#000"/>
<rect x="185" y="163" width="5" height="4" fill="#000"/>
<rect x="195" y="133" width="1" height="56" fill="#000"/>
<rect x="193" y="165" width="5" height="6" fill="#000"/>
<rect x="203" y="150" width="1" height="27" fill="#000"/>
<rect x="201" y="156" width="5" height="15" fill="#000"/>
<rect x="202" y="157" width="3" height="13" fill="#fff"/>
<rect x="211" y="150" width="1" height="19" fill="#000"/>
<rect x="209" y="156" width="5" height="7" fill="#000"/>
<rect x="219" y="158" width="1" height="22" fill="#000"/>
<rect x="217" y="162" width="5" height="17" fill="#000"/>
<rect x="227" y="166" width="1" height="25" fill="#000"/>
<rect x="225" y="177" width="5" height="11" fill="#000"/>
<rect x="235" y="167" width="1" height="28" fill="#000"/>
<rect x="233" y="179" width="5" height="9" fill="#000"/>
<rect x="234" y="180" width="3" height="7" fill="#fff"/>
<rect x="243" y="161" width="1" height="25" fill="#000"/>
<rect x="241" y="172" width="5" height="8" fill="#000"/>
<rect x="242" y="173" width="3" height="6" fill="#fff"/>
<rect x="251" y="150" width="1" height="33" fill="#000"/>
<rect x="249" y="153" width="5" height="20" fill="#000"/>
<rect x="250" y="154" width="3" height="18" fill="#fff"/>
<rect x="259" y="97" width="1" height="57" fill="#000"/>
<rect x="257" y="102" width="5" height="52" fill="#000"/>
<rect x="258" y="103" width="3" height="50" fill="#fff"/>
<rect x="267" y="98" width="1" height="21" fill="#000"/>
<rect x="265" y="100" width="5" height="3" fill="#000"/>
<rect x="266" y="101" width="3" height="1" fill="#fff"/>
<rect x="275" y="85" width="1" height="25" fill="#000"/>
<rect x="273" y="101" width="5" height="5" fill="#000"/>
<rect x="283" y="94" width="1" height="21" fill="#000"/>
<rect x="281" y="96" width="5" height="9" fill="#000"/>
<rect x="282" y="97" width="3" height="7" fill="#fff"/>
<rect x="291" y="94" width="1" height="19" fill="#000"/>
<rect x="289" y="96" width="5" height="9" fill="#000"/>
<rect x="299" y="93" width="1" height="13" fill="#000"/>
<rect x="297" y="97" width="5" height="8" fill="#000"/>
<rect x="298" y="98" width="3" height="6" fill="#fff"/>
<rect x="307" y="90" width="1" height="10" fill="#000"/>
<rect x="305" y="97" width="5" height="2" fill="#000"/>
<rect x="315" y="76" width="1" height="23" fill="#000"/>
<rect x="313" y="76" width="5" height="22" fill="#000"/>
<rect x="314" y="77" width="3" height="20" fill="#fff"/>
<rect x="323" y="68" width="1" height="19" fill="#000"/>
<rect x="321" y="69" width="5" height="8" fill="#000"/>
<rect x="322" y="70" width="3" height="6" fill="#fff"/>
<rect x="331" y="69" width="1" height="15" fill="#000"/>
<rect x="329" y="69" width="5" height="14" fill="#000"/>
<rect x="339" y="75" width="1" height="11" fill="#000"/>
<rect x="337" y="76" width="5" height="7" fill="#000"/>
<rect x="338" y="77" width="3" height="5" fill="#fff"/>
<rect x="347" y="74" width="1" height="13" fill="#000"/>
<rect x="345" y="75" width="5" height="8" fill="#000"/>
<rect x="355" y="80" width="1" height="14" fill="#000"/>
<rect x="353" y="82" width="5" height="4" fill="#000"/>
<rect x="363" y="84" width="1" height="16" fill="#000"/>
<rect x="361" y="84" width="5" height="12" fill="#000"/>
<rect x="371" y="59" width="1" height="37" fill="#000"/>
<rect x="369" y="70" width="5" height="26" fill="#000"/>
<rect x="370" y="71" width="3" height="24" fill="#fff"/>
<rect x="379" y="55" width="1" height="32" fill="#000"/>
<rect x="377" y="70" width="5" height="12" fill="#000"/>
<rect x="387" y="64" width="1" height="23" fill="#000"/>
<rect x="385" y="66" width="5" height="17" fill="#000"/>
<rect x="386" y="67" width="3" height="15" fill="#fff"/>
<rect x="395" y="64" width="1" height="12" fill="#000"/>
<rect x="393" y="66" width="5" height="6" fill="#000"/>
<rect x="403" y="52" width="1" height="21" fill="#000"/>
<rect x="401" y="55" width="5" height="17" fill="#000"/>
<rect x="402" y="56" width="3" height="15" fill="#fff"/>
<rect x="411" y="53" width="1" height="22" fill="#000"/>
<rect x="409" y="54" width="5" height="3" fill="#000"/>
<rect x="410" y="55" width="3" height="1" fill="#fff"/>
<rect x="419" y="40" width="1" height="25" fill="#000"/>
<rect x="417" y="53" width="5" height="4" fill="#000"/>
<rect x="427" y="27" width="1" height="36" fill="#000"/>
<rect x="425" y="45" width="5" height="12" fill="#000"/>
<rect x="426" y="46" width="3" height="10" fill="#fff"/>
<rect x="435" y="35" width="1" height="23" fill="#000"/>
<rect x="433" y="46" width="5" height="4" fill="#000"/>
<rect x="443" y="29" width="1" height="22" fill="#000"/>
<rect x="441" y="41" width="5" height="9" fill="#000"/>
<rect x="442" y="42" width="3" height="7" fill="#fff"/>
<rect x="451" y="23" width="1" height="19" fill="#000"/>
<rect x="449" y="33" width="5" height="9" fill="#000"/>
<rect x="450" y="34" width="3" height="7" fill="#fff"/>
<rect x="459" y="15" width="1" height="18" fill="#000"/>
<rect x="457" y="21" width="5" height="12" fill="#000"/>
<rect x="458" y="22" width="3" height="10" fill="#fff"/>
<rect x="467" y="20" width="1" height="23" fill="#000"/>
<rect x="465" y="21" width="5" height="17" fill="#000"/>
<rect x="475" y="34" width="1" height="10" fill="#000"/>
<rect x="473" y="37" width="5" height="6" fill="#000"/>
<rect x="483" y="42" width="1" height="8" fill="#000"/>
<rect x="481" y="42" width="5" height="4" fill="#000"/>
<rect x="491" y="23" width="1" height="12" fill="#000"/>
<rect x="489" y="29" width="5" height="3" fill="#000"/>
<rect x="499" y="24" width="1" height="11" fill="#000"/>
<rect x="497" y="29" width="5" height="3" fill="#000"/>
<rect x="498" y="30" width="3" height="1" fill="#fff"/>
<rect x="507" y="29" width="1" height="20" fill="#000"/>
<rect x="505" y="29" width="5" height="12" fill="#000"/>
<rect x="515" y="36" width="1" height="14" fill="#000"/>
<rect x="513" y="40" width="5" height="9" fill="#000"/>
<rect x="523" y="45" width="1" height="13" fill="#000"/>
<rect x="521" y="48" width="5" height="2" fill="#000"/>
<rect x="531" y="43" width="1" height="10" fill="#000"/>
<rect x="529" y="49" width="5" height="2" fill="#000"/>
<rect x="539" y="41" width="1" height="11" fill="#000"/>
<rect x="537" y="48" width="5" height="3" fill="#000"/>
<rect x="538" y="49" width="3" height="1" fill="#fff"/>
<rect x="547" y="31" width="1" height="19" fill="#000"/>
<rect x="545" y="35" width="5" height="14" fill="#000"/>
<rect x="546" y="36" width="3" height="12" fill="#fff"/>
<rect x="555" y="28" width="1" height="21" fill="#000"/>
<rect x="553" y="35" width="5" height="11" fill="#000"/>
<rect x="563" y="37" width="1" height="18" fill="#000"/>
<rect x="561" y="45" width="5" height="9" fill="#000"/>
<rect x="571" y="51" width="1" height="17" fill="#000"/>
<rect x="569" y="52" width="5" height="8" fill="#000"/>
<rect x="579" y="54" width="1" height="10" fill="#000"/>
<rect x="577" y="54" width="5" height="6" fill="#000"/>
<rect x="578" y="55" width="3" height="4" fill="#fff"/>
<rect x="587" y="48" width="1" height="12" fill="#000"/>
<rect x="585" y="49" width="5" height="7" fill="#000"/>
<rect x="586" y="50" width="3" height="5" fill="#fff"/>
<rect x="595" y="40" width="1" height="15" fill="#000"/>
<rect x="593" y="43" width="5" height="7" fill="#000"/>
<rect x="594" y="44" width="3" height="5" fill="#fff"/>
<rect x="603" y="30" width="1" height="19" fill="#000"/>
<rect x="601" y="43" width="5" height="4" fill="#000"/>
<rect x="611" y="44" width="1" height="9" fill="#000"/>
<rect x="609" y="46" width="5" height="1" fill="#000"/>
<rect x="619" y="39" width="1" height="11" fill="#000"/>
<rect x="617" y="39" width="5" height="8" fill="#000"/>
<rect x="618" y="40" width="3" height="6" fill="#fff"/>
<rect x="627" y="35" width="1" height="10" fill="#000"/>
<rect x="625" y="40" width="5" height="3" fill="#000"/>
<rect x="635" y="37" width="1" height="9" fill="#000"/>
<rect x="633" y="38" width="5" height="5" fill="#000"/>
<rect x="634" y="39" width="3" height="3" fill="#fff"/>
<rect x="643" y="31" width="1" height="9" fill="#000"/>
<rect x="641" y="34" width="5" height="5" fill="#000"/>
<rect x="642" y="35" width="3" height="3" fill="#fff"/>
<rect x="651" y="31" width="1" height="6" fill="#000"/>
<rect x="649" y="34" width="5" height="2" fill="#000"/>
<rect x="659" y="34" width="1" height="7" fill="#000"/>
<rect x="657" y="35" width="5" height="3" fill="#000"/>
<rect x="667" y="33" width="1" height="8" fill="#000"/>
<rect x="665" y="33" width="5" height="5" fill="#000"/>
<rect x="666" y="34" width="3" height="3" fill="#fff"/>
<rect x="675" y="34" width="1" height="7" fill="#000"/>
<rect x="673" y="34" width="5" height="2" fill="#000"/>
<rect x="683" y="35" width="1" height="7" fill="#000"/>
<rect x="681" y="36" width="5" height="6" fill="#000"/>
<rect x="691" y="37" width="1" height="12" fill="#000"/>
<rect x="689" y="38" width="5" height="4" fill="#000"/>
<rect x="690" y="39" width="3" height="2" fill="#fff"/>
<rect x="699" y="30" width="1" height="24" fill="#000"/>
<rect x="697" y="38" width="5" height="14" fill="#000"/>
<rect x="707" y="48" width="1" height="11" fill="#000"/>
<rect x="705" y="51" width="5" height="7" fill="#000"/>
<rect x="194" y="175" width="3" height="1" fill="#000"/>
</g>
<rect x="740" y="121" width="20" height="10" fill="#fff"/>
<path d="M719.5 54.5H724.5V63.5H727.5L722 68.5L716.5 63.5H719.5Z" fill="#fff" stroke="#000080" stroke-width="1" shape-rendering="crispEdges"/>
<g shape-rendering="crispEdges">
<polyline points="3.50,305.00 11.50,311.60 19.50,305.00 27.50,301.00 35.50,306.00 43.50,290.00 51.50,291.60 59.50,296.00 67.50,298.40 75.50,293.60 83.50,292.40 91.50,303.60 99.50,301.00 107.50,305.60 115.50,304.40 123.50,302.00 131.50,306.40 139.50,304.00 147.50,300.40 155.50,303.60 163.50,310.40 171.50,310.40 179.50,307.00 187.50,309.00 195.50,311.60 203.50,306.40 211.50,309.60 219.50,317.60 227.50,322.00 235.50,318.00 243.50,315.00 251.50,305.60 259.50,294.40 267.50,293.00 275.50,296.40 283.50,294.40 291.50,298.40 299.50,296.40 307.50,296.40 315.50,291.50 323.50,290.00 331.50,298.40 339.50,296.00 347.50,300.00 355.50,301.60 363.50,307.40 371.50,300.40 379.50,305.40 387.50,301.00 395.50,303.60 403.50,300.00 411.50,298.40 419.50,299.40 427.50,296.00 435.50,299.60 443.50,296.00 451.50,294.00 459.50,291.00 467.50,300.20 475.50,304.00 483.50,306.00 491.50,301.60 499.50,300.00 507.50,307.60 515.50,312.00 523.50,313.40 531.50,313.40 539.50,312.00 547.50,306.40 555.50,312.60 563.50,317.00 571.50,321.40 579.50,317.60 587.50,315.00 595.50,312.00 603.50,313.80 611.50,314.20 619.50,310.40 627.50,312.00 635.50,309.60 643.50,307.40 651.50,308.00 659.50,310.00 667.50,307.00 675.50,309.00 683.50,315.00 691.50,313.60 699.50,325.00 707.50,328.40" fill="none" stroke="#1e90ff" stroke-width="1" stroke-linejoin="round" stroke-linecap="butt"/>
<polyline points="3.50,315.60 11.50,315.60 19.50,314.00 27.50,312.40 35.50,311.00 43.50,308.60 51.50,306.40 59.50,304.00 67.50,301.60 75.50,300.00 83.50,298.40 91.50,297.60 99.50,297.60 107.50,297.60 115.50,297.60 123.50,298.40 131.50,300.00 139.50,301.00 147.50,301.00 155.50,302.00 163.50,304.00 171.50,305.40 179.50,305.40 187.50,306.40 195.50,306.40 203.50,307.00 211.50,307.40 219.50,309.00 227.50,311.60 235.50,312.40 243.50,312.40 251.50,312.00 259.50,311.00 267.50,309.60 275.50,308.40 283.50,307.00 291.50,305.00 299.50,303.00 307.50,301.00 315.50,298.20 323.50,295.40 331.50,295.40 339.50,295.40 347.50,295.40 355.50,296.40 363.50,297.40 371.50,297.60 379.50,298.60 387.50,299.40 395.50,300.60 403.50,301.00 411.50,301.00 419.50,301.00 427.50,301.00 435.50,301.00 443.50,300.00 451.50,299.40 459.50,298.40 467.50,298.40 475.50,298.40 483.50,299.40 491.50,299.40 499.50,299.40 507.50,300.40 515.50,302.00 523.50,304.00 531.50,306.00 539.50,307.40 547.50,307.40 555.50,308.60 563.50,310.00 571.50,312.00 579.50,313.60 587.50,314.40 595.50,314.40 603.50,314.40 611.50,314.40 619.50,314.40 627.50,315.60 635.50,314.40 643.50,313.60 651.50,312.60 659.50,311.60 667.50,310.60 675.50,310.40 683.50,310.40 691.50,310.40 699.50,311.60 707.50,313.60" fill="none" stroke="#ff00ff" stroke-width="1" stroke-linejoin="round" stroke-linecap="butt"/>
<polyline points="3.50,395.00 11.50,395.00 19.50,395.60 27.50,396.40 35.50,400.00 43.50,397.00 51.50,393.00 59.50,391.60 67.50,397.00 75.50,398.40 83.50,398.40 91.50,411.00 99.50,428.00 107.50,442.60 115.50,441.00 123.50,440.00 131.50,433.00 139.50,419.00 147.50,406.00 155.50,401.00 163.50,418.00 171.50,435.00 179.50,438.60 187.50,433.00 195.50,431.40 203.50,427.00 211.50,424.40 219.50,427.00 227.50,440.00 235.50,445.00 243.50,436.00 251.50,414.00 259.50,397.00 267.50,387.40 275.50,391.60 283.50,393.00 291.50,398.40 299.50,399.60 307.50,408.40 315.50,401.50 323.50,392.40 331.50,393.60 339.50,398.40 347.50,411.00 355.50,416.40 363.50,434.00 371.50,426.40 379.50,425.60 387.50,412.00 395.50,413.40 403.50,400.00 411.50,395.40 419.50,395.40 427.50,405.00 435.50,414.40 443.50,413.60 451.50,409.60 459.50,400.60 467.50,405.30 475.50,417.00 483.50,437.40 491.50,436.40 499.50,426.40 507.50,418.00 515.50,430.00 523.50,442.00 531.50,445.60 539.50,439.00 547.50,425.00 555.50,420.60 563.50,427.00 571.50,442.40 579.50,443.60 587.50,435.00 595.50,422.00 603.50,415.00 611.50,411.00 619.50,413.00 627.50,413.40 635.50,408.60 643.50,406.40 651.50,400.40 659.50,402.00 667.50,403.00 675.50,409.00 683.50,420.00 691.50,424.00 699.50,439.00 707.50,443.60" fill="none" stroke="#20b2aa" stroke-width="1" stroke-linejoin="round" stroke-linecap="butt"/>
<polyline points="3.50,412.00 11.50,403.00 19.50,397.60 27.50,396.00 35.50,397.00 43.50,398.00 51.50,397.00 59.50,394.00 67.50,394.00 75.50,396.00 83.50,398.00 91.50,403.00 99.50,413.00 107.50,427.00 115.50,437.00 123.50,441.00 131.50,438.00 139.50,431.00 147.50,419.00 155.50,409.50 163.50,409.00 171.50,418.00 179.50,430.00 187.50,435.00 195.50,434.40 203.50,431.60 211.50,428.00 219.50,426.40 227.50,430.40 235.50,437.00 243.50,440.60 251.50,431.60 259.50,416.00 267.50,400.00 275.50,391.60 283.50,390.40 291.50,394.00 299.50,397.00 307.50,402.00 315.50,403.40 323.50,401.60 331.50,395.60 339.50,394.40 347.50,400.00 355.50,408.00 363.50,420.00 371.50,425.60 379.50,427.60 387.50,421.00 395.50,417.00 403.50,408.40 411.50,403.00 419.50,397.00 427.50,398.40 435.50,405.00 443.50,411.00 451.50,412.00 459.50,407.50 467.50,405.00 475.50,406.40 483.50,420.00 491.50,430.00 499.50,433.00 507.50,427.00 515.50,424.40 523.50,430.00 531.50,439.00 539.50,442.00 547.50,437.00 555.50,428.00 563.50,424.40 571.50,430.00 579.50,438.00 587.50,440.00 595.50,433.60 603.50,424.00 611.50,416.00 619.50,413.00 627.50,412.40 635.50,411.00 643.50,409.00 651.50,405.00 659.50,403.00 667.50,402.40 675.50,404.40 683.50,411.00 691.50,418.00 699.50,428.00 707.50,435.60" fill="none" stroke="#ff0000" stroke-width="1" stroke-linejoin="round" stroke-linecap="butt" stroke-dasharray="3,3"/>
<rect x="3" y="558" width="1" height="1" fill="#ff0000"/>
<rect x="11" y="557" width="1" height="2" fill="#008000"/>
<rect x="19" y="552" width="1" height="7" fill="#008000"/>
<rect x="27" y="547" width="1" height="12" fill="#008000"/>
<rect x="35" y="546" width="1" height="13" fill="#008000"/>
<rect x="43" y="532" width="1" height="27" fill="#008000"/>
<rect x="51" y="524" width="1" height="35" fill="#008000"/>
<rect x="59" y="525" width="1" height="34" fill="#008000"/>
<rect x="67" y="528" width="1" height="31" fill="#008000"/>
<rect x="75" y="528" width="1" height="31" fill="#008000"/>
<rect x="83" y="529" width="1" height="30" fill="#008000"/>
<rect x="91" y="537" width="1" height="22" fill="#008000"/>
<rect x="99" y="544" width="1" height="15" fill="#008000"/>
<rect x="107" y="553" width="1" height="6" fill="#008000"/>
<rect x="115" y="558" width="1" height="1" fill="#008000"/>
<rect x="123" y="558" width="1" height="2" fill="#ff0000"/>
<rect x="131" y="558" width="1" height="8" fill="#ff0000"/>
<rect x="139" y="558" width="1" height="9" fill="#ff0000"/>
<rect x="147" y="558" width="1" height="7" fill="#ff0000"/>
<rect x="155" y="558" width="1" height="7" fill="#ff0000"/>
<rect x="163" y="558" width="1" height="10" fill="#ff0000"/>
<rect x="171" y="558" width="1" height="12" fill="#ff0000"/>
<rect x="179" y="558" width="1" height="12" fill="#ff0000"/>
<rect x="187" y="558" width="1" height="13" fill="#ff0000"/>
<rect x="195" y="558" width="1" height="13" fill="#ff0000"/>
<rect x="203" y="558" width="1" height="12" fill="#ff0000"/>
<rect x="211" y="558" width="1" height="11" fill="#ff0000"/>
<rect x="219" y="558" width="1" height="13" fill="#ff0000"/>
<rect x="227" y="558" width="1" height="16" fill="#ff0000"/>
<rect x="235" y="558" width="1" height="16" fill="#ff0000"/>
<rect x="243" y="558" width="1" height="15" fill="#ff0000"/>
<rect x="251" y="558" width="1" height="10" fill="#ff0000"/>
<rect x="259" y="553" width="1" height="6" fill="#008000"/>
<rect x="267" y="542" width="1" height="17" fill="#008000"/>
<rect x="275" y="536" width="1" height="23" fill="#008000"/>
<rect x="283" y="532" width="1" height="27" fill="#008000"/>
<rect x="291" y="532" width="1" height="27" fill="#008000"/>
<rect x="299" y="534" width="1" height="25" fill="#008000"/>
<rect x="307" y="538" width="1" height="21" fill="#008000"/>
<rect x="315" y="538" width="1" height="21" fill="#008000"/>
<rect x="323" y="540" width="1" height="19" fill="#008000"/>
<rect x="331" y="545" width="1" height="14" fill="#008000"/>
<rect x="339" y="548" width="1" height="11" fill="#008000"/>
<rect x="347" y="553" width="1" height="6" fill="#008000"/>
<rect x="355" y="558" width="1" height="1" fill="#008000"/>
<rect x="363" y="558" width="1" height="6" fill="#ff0000"/>
<rect x="371" y="558" width="1" height="6" fill="#ff0000"/>
<rect x="379" y="558" width="1" height="8" fill="#ff0000"/>
<rect x="387" y="558" width="1" height="7" fill="#ff0000"/>
<rect x="395" y="558" width="1" height="7" fill="#ff0000"/>
<rect x="403" y="558" width="1" height="4" fill="#ff0000"/>
<rect x="411" y="558" width="1" height="1" fill="#ff0000"/>
<rect x="419" y="558" width="1" height="1" fill="#ff0000"/>
<rect x="427" y="558" width="1" height="1" fill="#008000"/>
<rect x="435" y="558" width="1" height="1" fill="#008000"/>
<rect x="443" y="558" width="1" height="1" fill="#008000"/>
<rect x="451" y="555" width="1" height="4" fill="#008000"/>
<rect x="459" y="554" width="1" height="5" fill="#008000"/>
<rect x="467" y="556" width="1" height="3" fill="#008000"/>
<rect x="475" y="558" width="1" height="2" fill="#ff0000"/>
<rect x="483" y="558" width="1" height="6" fill="#ff0000"/>
<rect x="491" y="558" width="1" height="6" fill="#ff0000"/>
<rect x="499" y="558" width="1" height="6" fill="#ff0000"/>
<rect x="507" y="558" width="1" height="9" fill="#ff0000"/>
<rect x="515" y="558" width="1" height="13" fill="#ff0000"/>
<rect x="523" y="558" width="1" height="16" fill="#ff0000"/>
<rect x="531" y="558" width="1" height="17" fill="#ff0000"/>
<rect x="539" y="558" width="1" height="17" fill="#ff0000"/>
<rect x="547" y="558" width="1" height="15" fill="#ff0000"/>
<rect x="555" y="558" width="1" height="15" fill="#ff0000"/>
<rect x="563" y="558" width="1" height="16" fill="#ff0000"/>
<rect x="571" y="558" width="1" height="17" fill="#ff0000"/>
<rect x="579" y="558" width="1" height="16" fill="#ff0000"/>
<rect x="587" y="558" width="1" height="14" fill="#ff0000"/>
<rect x="595" y="558" width="1" height="11" fill="#ff0000"/>
<rect x="603" y="558" width="1" height="9" fill="#ff0000"/>
<rect x="611" y="558" width="1" height="8" fill="#ff0000"/>
<rect x="619" y="558" width="1" height="5" fill="#ff0000"/>
<rect x="627" y="558" width="1" height="3" fill="#ff0000"/>
<rect x="635" y="558" width="1" height="1" fill="#ff0000"/>
<rect x="643" y="558" width="1" height="1" fill="#008000"/>
<rect x="651" y="557" width="1" height="2" fill="#008000"/>
<rect x="659" y="558" width="1" height="1" fill="#008000"/>
<rect x="667" y="557" width="1" height="2" fill="#008000"/>
<rect x="675" y="558" width="1" height="1" fill="#008000"/>
<rect x="683" y="558" width="1" height="1" fill="#ff0000"/>
<rect x="691" y="558" width="1" height="2" fill="#ff0000"/>
<rect x="699" y="558" width="1" height="6" fill="#ff0000"/>
<rect x="707" y="558" width="1" height="10" fill="#ff0000"/>
<polyline points="3.50,536.00 11.50,535.00 19.50,530.00 27.50,524.00 35.50,521.60 43.50,505.00 51.50,494.00 59.50,485.60 67.50,482.00 75.50,475.00 83.50,472.00 91.50,472.00 99.50,473.00 107.50,474.40 115.50,476.40 123.50,477.00 131.50,482.00 139.50,485.00 147.50,484.40 155.50,485.60 163.50,492.00 171.50,497.60 179.50,501.00 187.50,504.40 195.50,508.00 203.50,508.40 211.50,511.00 219.50,517.00 227.50,525.00 235.50,529.40 243.50,531.40 251.50,527.40 259.50,513.00 267.50,502.00 275.50,493.00 283.50,486.40 291.50,483.00 299.50,481.00 307.50,480.00 315.50,474.30 323.50,468.40 331.50,468.40 339.50,468.40 347.50,470.40 355.50,474.40 363.50,480.40 371.50,481.00 379.50,483.60 387.50,482.40 395.50,484.40 403.50,482.40 411.50,481.40 419.50,482.00 427.50,481.60 435.50,481.60 443.50,481.60 451.50,479.60 459.50,476.40 467.50,478.70 475.50,482.00 483.50,487.00 491.50,488.00 499.50,489.60 507.50,493.60 515.50,499.60 523.50,506.00 531.50,511.40 539.50,515.00 547.50,515.40 555.50,519.00 563.50,524.00 571.50,530.00 579.50,534.00 587.50,536.00 595.50,536.40 603.50,537.40 611.50,538.20 619.50,538.20 627.50,538.40 635.50,538.40 643.50,536.40 651.50,536.40 659.50,536.40 667.50,536.40 675.50,537.40 683.50,538.40 691.50,540.40 699.50,544.00 707.50,549.00" fill="none" stroke="#00ffff" stroke-width="1" stroke-linejoin="round" stroke-linecap="butt"/>
<polyline points="3.50,536.00 11.50,536.40 19.50,537.60 27.50,536.40 35.50,534.00 43.50,532.00 51.50,526.00 59.50,520.00 67.50,514.40 75.50,509.00 83.50,501.00 91.50,494.00 99.50,487.00 107.50,480.40 115.50,477.60 123.50,476.40 131.50,475.60 139.50,476.00 147.50,476.40 155.50,479.00 163.50,482.00 171.50,485.00 179.50,488.40 187.50,491.60 195.50,494.00 203.50,497.00 211.50,500.00 219.50,503.00 227.50,507.00 235.50,511.00 243.50,515.00 251.50,518.40 259.50,519.40 267.50,518.40 275.50,517.00 283.50,515.00 291.50,511.00 299.50,507.00 307.50,501.60 315.50,495.50 323.50,488.00 331.50,483.00 339.50,478.40 347.50,476.40 355.50,475.00 363.50,474.40 371.50,473.60 379.50,474.40 387.50,475.00 395.50,477.00 403.50,479.00 411.50,481.00 419.50,481.60 427.50,482.00 435.50,482.40 443.50,482.40 451.50,482.40 459.50,481.00 467.50,480.40 475.50,480.40 483.50,481.40 491.50,481.40 499.50,482.40 507.50,484.00 515.50,486.40 523.50,490.00 531.50,494.00 539.50,497.60 547.50,501.00 555.50,504.40 563.50,508.00 571.50,513.00 579.50,517.60 587.50,521.00 595.50,524.40 603.50,527.00 611.50,531.00 619.50,531.80 627.50,534.00 635.50,536.00 643.50,537.00 651.50,537.60 659.50,537.60 667.50,537.60 675.50,537.60 683.50,537.60 691.50,538.00 699.50,538.40 707.50,539.40" fill="none" stroke="#ff0000" stroke-width="1" stroke-linejoin="round" stroke-linecap="butt" stroke-dasharray="3,3"/>
</g>
<g shape-rendering="crispEdges">
<rect x="2" y="2" width="758" height="1" fill="#000"/>
<rect x="2" y="256" width="758" height="1" fill="#000"/>
<rect x="2" y="258" width="758" height="1" fill="#000"/>
<rect x="2" y="380" width="758" height="1" fill="#000"/>
<rect x="2" y="382" width="758" height="1" fill="#000"/>
<rect x="2" y="459" width="758" height="1" fill="#000"/>
<rect x="2" y="461" width="758" height="1" fill="#000"/>
<rect x="2" y="582" width="758" height="1" fill="#000"/>
<rect x="2" y="2" width="1" height="255" fill="#000"/>
<rect x="760" y="2" width="1" height="255" fill="#000"/>
<rect x="2" y="258" width="1" height="123" fill="#000"/>
<rect x="760" y="258" width="1" height="123" fill="#000"/>
<rect x="2" y="382" width="1" height="78" fill="#000"/>
<rect x="760" y="382" width="1" height="78" fill="#000"/>
<rect x="2" y="461" width="1" height="122" fill="#000"/>
<rect x="760" y="461" width="1" height="122" fill="#000"/>
<rect x="761" y="30" width="2" height="1" fill="#000"/>
<rect x="761" y="62" width="2" height="1" fill="#000"/>
<rect x="761" y="94" width="2" height="1" fill="#000"/>
<rect x="761" y="126" width="2" height="1" fill="#000"/>
<rect x="761" y="158" width="2" height="1" fill="#000"/>
<rect x="761" y="190" width="2" height="1" fill="#000"/>
<rect x="761" y="222" width="2" height="1" fill="#000"/>
<rect x="761" y="254" width="2" height="1" fill="#000"/>
<rect x="761" y="260" width="1" height="1" fill="#000"/>
<rect x="761" y="379" width="1" height="1" fill="#000"/>
<rect x="761" y="384" width="1" height="1" fill="#000"/>
<rect x="761" y="458" width="1" height="1" fill="#000"/>
<rect x="761" y="463" width="1" height="1" fill="#000"/>
<rect x="761" y="558" width="1" height="1" fill="#000"/>
<rect x="761" y="581" width="1" height="1" fill="#000"/>
<rect x="760" y="283" width="1" height="1" fill="#fff"/>
<rect x="760" y="319" width="1" height="1" fill="#fff"/>
<rect x="760" y="355" width="1" height="1" fill="#fff"/>
<rect x="760" y="398" width="1" height="1" fill="#fff"/>
<rect x="760" y="420" width="1" height="1" fill="#fff"/>
<rect x="760" y="443" width="1" height="1" fill="#fff"/>
<rect x="3" y="583" width="1" height="3" fill="#000"/>
<rect x="67" y="583" width="1" height="3" fill="#000"/>
<rect x="131" y="583" width="1" height="3" fill="#000"/>
<rect x="195" y="583" width="1" height="3" fill="#000"/>
<rect x="259" y="583" width="1" height="3" fill="#000"/>
<rect x="323" y="583" width="1" height="3" fill="#000"/>
<rect x="387" y="583" width="1" height="3" fill="#000"/>
<rect x="451" y="583" width="1" height="3" fill="#000"/>
<rect x="515" y="583" width="1" height="3" fill="#000"/>
<rect x="579" y="583" width="1" height="3" fill="#000"/>
<rect x="643" y="583" width="1" height="3" fill="#000"/>
<rect x="707" y="583" width="1" height="3" fill="#000"/>
<rect x="763" y="51" width="37" height="11" fill="#000"/>
<rect x="763" y="62" width="37" height="11" fill="#9400d3"/>
</g>
<g class="tx">
<text x="766.28" y="33" fill="#000" stroke="#000" letter-spacing="-0.403">1.40235</text>
<text x="766.28" y="97" fill="#000" stroke="#000" letter-spacing="-0.408">1.39080</text>
<text x="766.28" y="129" fill="#000" stroke="#000" letter-spacing="-0.403">1.38495</text>
<text x="766.28" y="161" fill="#000" stroke="#000" letter-spacing="-0.403">1.37925</text>
<text x="766.28" y="193" fill="#000" stroke="#000" letter-spacing="-0.403">1.37355</text>
<text x="766.28" y="225" fill="#000" stroke="#000" letter-spacing="-0.408">1.36770</text>
<text x="766.28" y="257" fill="#000" stroke="#000" letter-spacing="-0.408">1.36200</text>
<text x="766.28" y="60" fill="#fff" stroke="#fff" letter-spacing="-0.423">1.39744</text>
<text x="766.28" y="71" fill="#fff" stroke="#fff" letter-spacing="-0.400">1.39546</text>
<text x="740.32" y="129" fill="#0000cd" stroke="#0000cd" letter-spacing="-0.065">61.8</text>
<text x="764.03" y="269" fill="#000" stroke="#000" letter-spacing="-0.753">100</text>
<text x="762.59" y="286" fill="#000" stroke="#000" letter-spacing="-0.783">80</text>
<text x="762.62" y="322" fill="#000" stroke="#000" letter-spacing="-0.815">50</text>
<text x="762.52" y="358" fill="#000" stroke="#000" letter-spacing="-0.718">20</text>
<text x="763.63" y="377" fill="#000" stroke="#000">0</text>
<text x="764.03" y="393" fill="#000" stroke="#000" letter-spacing="-0.753">100</text>
<text x="762.59" y="401" fill="#000" stroke="#000" letter-spacing="-0.783">80</text>
<text x="762.62" y="423" fill="#000" stroke="#000" letter-spacing="-0.815">50</text>
<text x="762.52" y="446" fill="#000" stroke="#000" letter-spacing="-0.718">20</text>
<text x="763.63" y="456" fill="#000" stroke="#000">0</text>
<text x="763.63" y="472" fill="#000" stroke="#000" letter-spacing="-0.168">0.005337</text>
<text x="763.63" y="561" fill="#000" stroke="#000" letter-spacing="-0.216">0.00</text>
<text x="763.78" y="579" fill="#000" stroke="#000" letter-spacing="-0.115">-0.00134</text>
<text x="1.22" y="595" fill="#000" stroke="#000" letter-spacing="0.000">20 May 2009</text>
<text x="65.32" y="595" fill="#000" stroke="#000" letter-spacing="0.071">20 May 18:00</text>
<text x="129.32" y="595" fill="#000" stroke="#000" letter-spacing="0.071">21 May 02:00</text>
<text x="193.32" y="595" fill="#000" stroke="#000" letter-spacing="0.071">21 May 10:00</text>
<text x="257.32" y="595" fill="#000" stroke="#000" letter-spacing="0.071">21 May 18:00</text>
<text x="321.32" y="595" fill="#000" stroke="#000" letter-spacing="0.071">22 May 02:00</text>
<text x="385.32" y="595" fill="#000" stroke="#000" letter-spacing="0.071">22 May 10:00</text>
<text x="449.32" y="595" fill="#000" stroke="#000" letter-spacing="0.071">22 May 18:00</text>
<text x="513.32" y="595" fill="#000" stroke="#000" letter-spacing="0.071">25 May 03:00</text>
<text x="577.32" y="595" fill="#000" stroke="#000" letter-spacing="0.071">25 May 11:00</text>
<text x="641.32" y="595" fill="#000" stroke="#000" letter-spacing="0.071">25 May 19:00</text>
<text x="705.32" y="595" fill="#000" stroke="#000" letter-spacing="0.071">26 May 03:00</text>
</g>
</svg>
</body></html>
